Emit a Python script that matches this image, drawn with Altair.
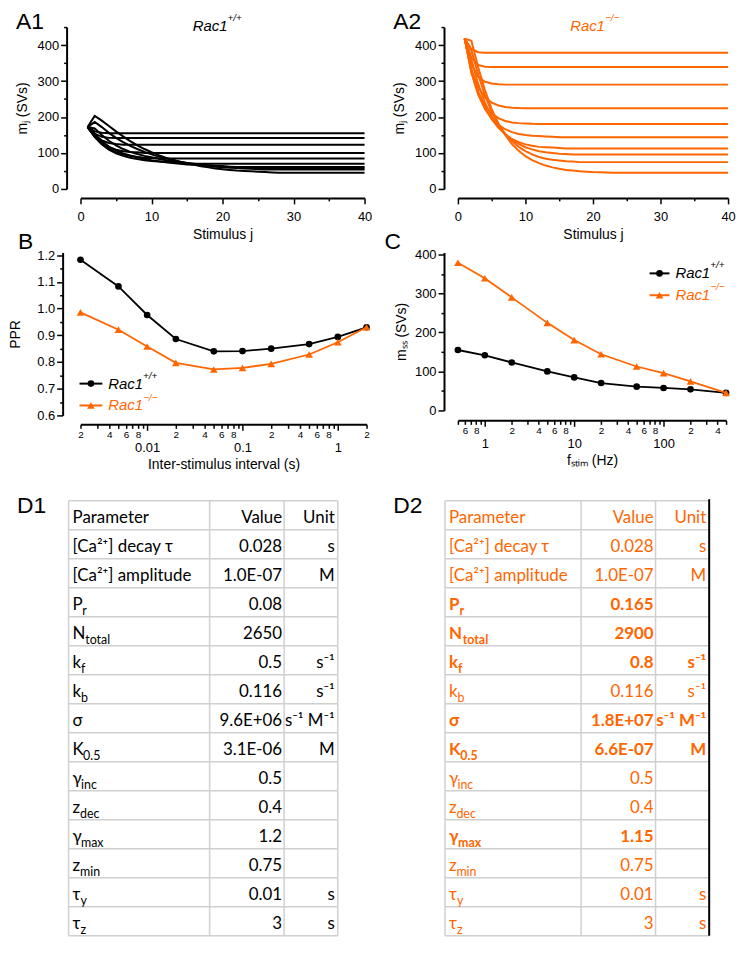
import altair as alt
import pandas as pd

BLACK = "#000000"
ORANGE = "#FF6600"
GRID = "#d0d0d0"
FONT = "Liberation Sans"
TFONT = "Lato"

# ---------------- data ----------------
stimulus_j = list(range(1, 41))
isi_names = ["2 s", "1 s", "0.5 s", "0.2 s", "0.1 s", "50 ms", "20 ms", "10 ms", "5 ms", "2 ms"]

# A1 (Rac1+/+): first stimuli of each train, then flat at m_ss
a1_start = [
    [172, 160, 156],
    [172, 154, 145, 142],
    [172, 149, 135, 128, 125],
    [172, 146, 128, 116, 109, 105, 103, 102],
    [172, 145, 125, 111, 102, 96, 92, 89, 87, 86],
    [172, 145, 124, 109, 99, 92, 87, 83, 80, 78, 76, 75, 74, 73],
    [172, 152, 133, 118, 107, 99, 93, 88, 84, 80, 77, 74, 72, 70, 68, 67, 66, 65, 64, 63],
    [172, 168, 150, 134, 121, 111, 103, 97, 92, 88, 84, 80, 77, 74, 72, 70, 68, 66, 64, 63, 62, 61, 60, 59],
    [172, 186, 172, 156, 142, 130, 120, 111, 103, 96, 90, 85, 80, 76, 72, 69, 66, 64, 62, 60, 59, 58, 57, 56, 55],
    [172, 203, 190, 175, 160, 146, 133, 121, 111, 102, 94, 87, 81, 76, 71, 67, 63, 60, 57, 55, 53, 51, 50, 49, 48, 47, 46],
]
# A2 (Rac1-/-)
a2_start = [
    [418, 389, 380],
    [418, 365, 345, 340],
    [418, 346, 312, 298, 293, 291],
    [418, 331, 282, 255, 240, 232, 228, 226, 225],
    [418, 325, 268, 232, 210, 197, 189, 185, 183, 182, 181],
    [418, 323, 262, 222, 196, 178, 166, 158, 153, 150, 148, 147, 146, 145],
    [418, 333, 270, 226, 194, 170, 152, 139, 130, 124, 120, 117, 116, 115, 114],
    [418, 359, 292, 240, 202, 174, 153, 137, 125, 116, 110, 105, 102, 100, 98, 97],
    [418, 385, 318, 260, 215, 180, 153, 133, 117, 105, 96, 89, 84, 81, 79, 77, 76],
    [418, 412, 338, 275, 222, 182, 150, 125, 106, 91, 80, 72, 65, 60, 56, 53, 51, 49, 48, 47, 46.5, 46],
]

# B: paired-pulse ratio vs inter-stimulus interval (s)
ppr_isi = [0.002, 0.005, 0.01, 0.02, 0.05, 0.1, 0.2, 0.5, 1, 2]
ppr_wt = [1.183, 1.083, 0.976, 0.886, 0.840, 0.841, 0.850, 0.867, 0.894, 0.930]
ppr_ko = [0.986, 0.921, 0.858, 0.797, 0.772, 0.778, 0.793, 0.828, 0.874, 0.930]

# C: steady-state m vs stimulation frequency (Hz)
f_stim = [0.5, 1, 2, 5, 10, 20, 50, 100, 200, 500]
mss_wt = [155, 141.5, 123, 100, 84.7, 70.3, 61, 57.6, 54.2, 45]
mss_ko = [378.8, 339, 290, 224.6, 180.5, 144, 112.7, 95.8, 74.6, 45]

# D: parameter tables
param_base = ["Parameter", "[Ca²⁺] decay τ", "[Ca²⁺] amplitude", "P", "N", "k", "k", "σ", "K",
              "γ", "z", "γ", "z", "τ", "τ"]
param_sub = ["", "", "", "r", "total", "f", "b", "", "0.5", "inc", "dec", "max", "min", "y", "z"]
units = ["Unit", "s", "M", "", "", "s⁻¹", "s⁻¹", "s⁻¹ M⁻¹", "M", "", "", "", "", "s", "s"]
d1_values = ["Value", "0.028", "1.0E-07", "0.08", "2650", "0.5", "0.116", "9.6E+06", "3.1E-06",
             "0.5", "0.4", "1.2", "0.75", "0.01", "3"]
d2_values = ["Value", "0.028", "1.0E-07", "0.165", "2900", "0.8", "0.116", "1.8E+07", "6.6E-07",
             "0.5", "0.4", "1.15", "0.75", "0.01", "3"]
d2_bold_rows = [3, 4, 5, 7, 8, 11]


# ---------------- helpers ----------------
def curves_df(starts, plateaus):
    rows = []
    for name, st, pl in zip(isi_names, starts, plateaus):
        vals = st + [pl] * (len(stimulus_j) - len(st))
        for j, v in zip(stimulus_j, vals):
            rows.append({"isi": name, "j": j, "m": v})
    return pd.DataFrame(rows)


def one():
    return pd.DataFrame({"a": [0]})


def ann_text(text, x, y, size, color=BLACK, style="normal", weight="normal", font=FONT, align="left"):
    return alt.Chart(pd.DataFrame({"t": [text]})).mark_text(
        align=align, baseline="alphabetic", font=font, fontSize=size,
        fontStyle=style, fontWeight=weight, color=color
    ).encode(x=alt.value(x), y=alt.value(y), text="t:N")


def rac1(x, y, sup, color, size=15):
    return [ann_text("Rac1", x, y, size, color, "italic"),
            ann_text(sup, x + 35, y - 10, 10, color, "italic")]


def legend_entry(x0, x1, y, color, shape, psize, sup):
    line = alt.Chart(one()).mark_rule(color=color, strokeWidth=2).encode(
        x=alt.value(x0), x2=alt.value(x1), y=alt.value(y))
    pt = alt.Chart(one()).mark_point(shape=shape, filled=True, size=psize, color=color, opacity=1).encode(
        x=alt.value((x0 + x1) / 2), y=alt.value(y))
    return [line, pt] + rac1(x1 + 6, y + 5, sup, color)


def lin_axis(values, major, fmt, title, offset, **kw):
    return alt.Axis(values=values,
                    labelExpr=f"({major}) ? format(datum.value, '{fmt}') : ''",
                    tickSize={"condition": {"test": major, "value": 6}, "value": 3},
                    title=title, offset=offset, labelOverlap=False, labelFlush=False, **kw)


DEC = "abs(log(datum.value)/LN10 - round(log(datum.value)/LN10)) < 0.001"
MAN = "round(datum.value / pow(10, floor(log(datum.value)/LN10 + 0.000001)))"


def log_ticks(lo, hi):
    vals = []
    for e in range(-4, 4):
        for m in range(1, 10):
            v = round(m * 10 ** e, 6)
            if lo - 1e-9 <= v <= hi + 1e-9:
                vals.append(v)
    return vals


def log_axis(lo, hi, title, offset):
    return alt.Axis(values=log_ticks(lo, hi),
                    labelExpr=f"({DEC}) ? format(datum.value, '~g') : ((({MAN}) % 2 === 0) ? '' + ({MAN}) : '')",
                    labelFontSize={"condition": {"test": DEC, "value": 13}, "value": 10},
                    labelPadding={"condition": {"test": DEC, "value": 11}, "value": 1},
                    tickSize={"condition": {"test": DEC, "value": 6}, "value": 4},
                    title=title, offset=offset, labelOverlap=False, labelFlush=False, titlePadding=3)


# ---------------- A1 / A2 ----------------
def a_panel(df, color, width, label, sup):
    x_ax = lin_axis(list(range(0, 41, 5)), "datum.value % 10 === 0", "d", "Stimulus j", 9,
                    labelPadding=7, titlePadding=4)
    y_ax = lin_axis(list(range(0, 451, 50)), "datum.value % 100 === 0", "d", "mⱼ (SVs)", 14,
                    titlePadding=8)
    lines = alt.Chart(df).mark_line(color=color, strokeWidth=2).encode(
        x=alt.X("j:Q", scale=alt.Scale(domain=[0, 40], nice=False), axis=x_ax),
        y=alt.Y("m:Q", scale=alt.Scale(domain=[0, 450], nice=False), axis=y_ax),
        detail="isi:N")
    layers = [lines, ann_text(label, -65, 2, 23)] + rac1(113, 4, sup, color)
    return alt.layer(*layers).properties(width=width, height=163)


A1 = a_panel(curves_df(a1_start, mss_wt), BLACK, 286, "A1", "+/+")
A2 = a_panel(curves_df(a2_start, mss_ko), ORANGE, 272, "A2", "−/−")

# ---------------- B ----------------
b_df = pd.DataFrame({"isi": ppr_isi * 2, "ppr": ppr_wt + ppr_ko,
                     "g": ["wt"] * len(ppr_isi) + ["ko"] * len(ppr_isi)})
bx = alt.X("isi:Q", scale=alt.Scale(type="log", domain=[0.002, 2], nice=False),
           axis=log_axis(0.002, 2, "Inter-stimulus interval (s)", 9))
b_yvals = [round(0.6 + 0.05 * k, 2) for k in range(13)]
by = alt.Y("ppr:Q", scale=alt.Scale(domain=[0.6, 1.21], nice=False, zero=False),
           axis=lin_axis(b_yvals, "abs(datum.value*10 - round(datum.value*10)) < 0.001", ".1f", "PPR", 18,
                         titlePadding=14))
b_layers = []
for g, col, shp, sz in [("wt", BLACK, "circle", 45), ("ko", ORANGE, "triangle-up", 60)]:
    base = alt.Chart(b_df).transform_filter(f"datum.g === '{g}'")
    b_layers.append(base.mark_line(color=col, strokeWidth=1.8).encode(x=bx, y=by))
    b_layers.append(base.mark_point(shape=shp, filled=True, size=sz, color=col, opacity=1).encode(x=bx, y=by))
b_layers += [ann_text("B", -63, -4, 23)]
b_layers += legend_entry(-1, 22, 132, BLACK, "circle", 45, "+/+")
b_layers += legend_entry(-1, 22, 154, ORANGE, "triangle-up", 60, "−/−")
B = alt.layer(*b_layers).properties(width=288, height=164)

# ---------------- C ----------------
c_df = pd.DataFrame({"f": f_stim * 2, "mss": mss_wt + mss_ko,
                     "g": ["wt"] * len(f_stim) + ["ko"] * len(f_stim)})
cx = alt.X("f:Q", scale=alt.Scale(type="log", domain=[0.5, 500], nice=False),
           axis=log_axis(0.5, 500, "fₛₜᵢₘ (Hz)", 10))
cy = alt.Y("mss:Q", scale=alt.Scale(domain=[0, 405], nice=False),
           axis=lin_axis(list(range(0, 401, 50)), "datum.value % 100 === 0", "d", "mₛₛ (SVs)", 14,
                         titlePadding=6))
c_layers = []
for g, col, shp, sz in [("wt", BLACK, "circle", 45), ("ko", ORANGE, "triangle-up", 60)]:
    base = alt.Chart(c_df).transform_filter(f"datum.g === '{g}'")
    c_layers.append(base.mark_line(color=col, strokeWidth=1.8).encode(x=cx, y=cy))
    c_layers.append(base.mark_point(shape=shp, filled=True, size=sz, color=col, opacity=1).encode(x=cx, y=cy))
c_layers += [ann_text("C", -74, -4, 23)]
c_layers += legend_entry(193, 213, 21, BLACK, "circle", 45, "+/+")
c_layers += legend_entry(193, 213, 43, ORANGE, "triangle-up", 60, "−/−")
C = alt.layer(*c_layers).properties(width=270, height=159)

# ---------------- D tables ----------------
FS = 17
ROW_H = 29.2
TOP = 22
BASE_EM = {"P": 0.58, "N": 0.75, "k": 0.50, "K": 0.62, "γ": 0.50, "z": 0.44, "τ": 0.47}


def table(values, bold_rows, color, col_edges, x_shift, width, label, edge_color):
    n = len(param_base)
    W = col_edges[-1]
    bold = [i in bold_rows for i in range(n)]
    df = pd.DataFrame({
        "param": param_base, "sub": param_sub, "value": values, "unit": units, "bold": bold,
        "ty": [i + 0.77 for i in range(n)],
        "sy": [i + 0.77 + 5 / ROW_H for i in range(n)],
        "px": [col_edges[0] + 4] * n,
        "sx": [col_edges[0] + 4 + BASE_EM.get(b, 0) * FS * (1.08 if bd else 1.0)
               for b, bd in zip(param_base, bold)],
        "vx": [col_edges[2] - 2] * n,
        "ux": [col_edges[3] - 3] * n,
    })
    xs = alt.Scale(domain=[0, W], range=[x_shift, x_shift + W])
    ys = alt.Scale(domain=[0, n], range=[TOP, TOP + n * ROW_H])
    hl = pd.DataFrame({"y": list(range(n + 1)), "x0": [0] * (n + 1), "x1": [W] * (n + 1)})
    vl = pd.DataFrame({"x": col_edges[:-1], "y0": [0] * 3, "y1": [n] * 3})
    el = pd.DataFrame({"x": [W], "y0": [-0.05 if edge_color == BLACK else 0], "y1": [n]})
    layers = [
        alt.Chart(hl).mark_rule(color=GRID, strokeWidth=1.5).encode(
            x=alt.X("x0:Q", scale=xs, axis=None), x2="x1:Q", y=alt.Y("y:Q", scale=ys, axis=None)),
        alt.Chart(vl).mark_rule(color=GRID, strokeWidth=1.5).encode(
            x=alt.X("x:Q", scale=xs, axis=None), y=alt.Y("y0:Q", scale=ys, axis=None), y2="y1:Q"),
        alt.Chart(el).mark_rule(color=edge_color, strokeWidth=1.5 if edge_color != BLACK else 2).encode(
            x=alt.X("x:Q", scale=xs, axis=None), y=alt.Y("y0:Q", scale=ys, axis=None), y2="y1:Q"),
    ]
    for filt, wt in [("!datum.bold", "normal"), ("datum.bold", "bold")]:
        base = alt.Chart(df).transform_filter(filt)
        for field, xf, yf, align, size in [("param", "px", "ty", "left", FS), ("sub", "sx", "sy", "left", 12.5),
                                           ("value", "vx", "ty", "right", FS), ("unit", "ux", "ty", "right", FS)]:
            layers.append(base.mark_text(align=align, baseline="alphabetic", font=TFONT, fontSize=size,
                                         fontWeight=wt, color=color).encode(
                x=alt.X(f"{xf}:Q", scale=xs, axis=None), y=alt.Y(f"{yf}:Q", scale=ys, axis=None),
                text=f"{field}:N"))
    layers.append(ann_text(label, x_shift - 52, TOP + 12, 23))
    return alt.layer(*layers).properties(width=width, height=TOP + n * ROW_H)


D1 = table(d1_values, [], BLACK, [0, 142, 217, 271], -12, 288, "D1", GRID)
D2 = table(d2_values, d2_bold_rows, ORANGE, [0, 137, 212, 266], -13, 272, "D2", BLACK)

chart = alt.concat(A1, A2, B, C, D1, D2, columns=2, spacing={"row": 64, "column": 92},
                   bounds="flush").properties(padding=0).configure_axis(
    domainColor=BLACK, domainWidth=2, tickColor=BLACK, tickWidth=1.5, labelColor=BLACK,
    labelFont=FONT, labelFontSize=13, titleFont=FONT, titleFontSize=14, titleFontWeight="normal",
    titleColor=BLACK, grid=False
).configure_view(stroke=None)

chart.save("out.html", embed_options={"renderer": "svg", "actions": False})
